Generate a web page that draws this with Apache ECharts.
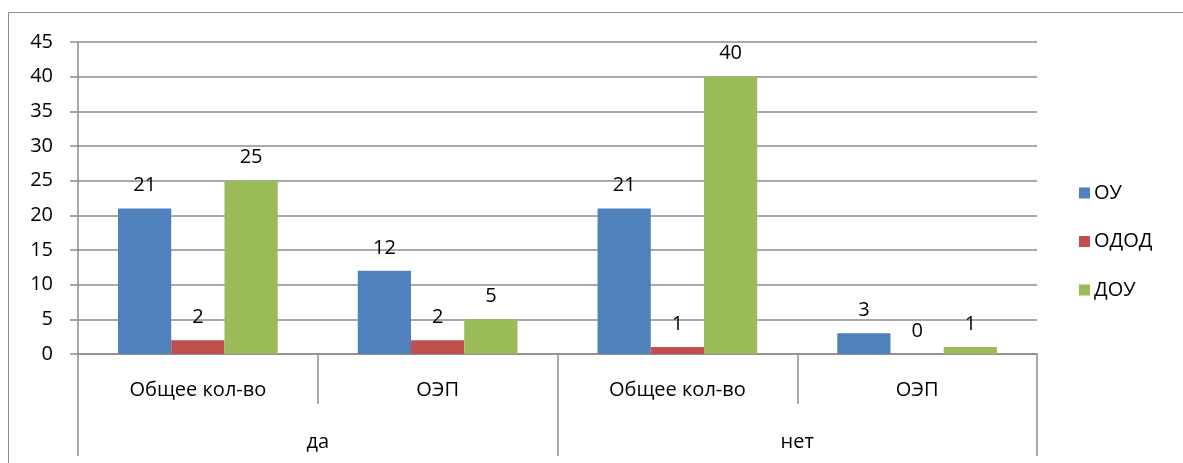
<!DOCTYPE html>
<html><head><meta charset="utf-8">
<script src="https://cdn.jsdelivr.net/npm/echarts@6/dist/echarts.min.js"></script>
<style>html,body{margin:0;padding:0;background:#fff}#c{width:1183px;height:463px}</style>
</head><body><div id="c"></div>
<script>
const innerCats = ['Общее кол-во', 'ОЭП', 'Общее кол-во', 'ОЭП'];
const outerCats = ['да', 'нет'];
const seriesNames = ['ОУ', 'ОДОД', 'ДОУ'];
const valuesOU = [21, 12, 21, 3];
const valuesODOD = [2, 2, 1, 0];
const valuesDOU = [25, 5, 40, 1];
const colors = ['#4F81BD', '#C0504D', '#9BBB59'];
const yTicks = [0, 5, 10, 15, 20, 25, 30, 35, 40, 45];

const FONT = '"Open Sans", "Liberation Sans", sans-serif';
const FS = 20;
const gridColor = '#8C8C8C';
const chart = echarts.init(document.getElementById('c'), null, {renderer: 'canvas'});
const mkSeries = (name, data, color) => ({
  name, type: 'bar', data, barGap: '0%', barCategoryGap: '33.4%',
  itemStyle: {color},
  label: {show: true, position: 'top', distance: 13, color: '#000', fontSize: FS, fontFamily: FONT}
});
chart.setOption({
  animation: false,
  graphic: [{type: 'rect', shape: {x: 8.5, y: 12.5, width: 1200, height: 500}, style: {fill: 'none', stroke: '#8C8C8C', lineWidth: 1}, silent: true, z: -1}],
  grid: {left: 78, top: 42, width: 959, height: 312, containLabel: false},
  legend: {
    orient: 'vertical', left: 1074, top: 178, itemGap: 28.5, itemWidth: 11, itemHeight: 11,
    icon: 'rect', data: seriesNames,
    textStyle: {fontSize: FS, fontFamily: FONT, color: '#000', padding: [0, 0, 0, -1]}
  },
  xAxis: [
    {type: 'category', data: innerCats, position: 'bottom',
     axisLine: {show: true, lineStyle: {color: gridColor, width: 1.5}},
     axisTick: {show: true, alignWithLabel: false, length: 50, lineStyle: {color: gridColor, width: 1.5}},
     axisLabel: {fontSize: FS, fontFamily: FONT, color: '#000', margin: 26}},
    {type: 'category', data: outerCats, position: 'bottom', offset: 50, gridIndex: 0,
     axisLine: {show: false},
     axisTick: {show: true, length: 52, lineStyle: {color: gridColor, width: 1.5}},
     axisLabel: {fontSize: FS, fontFamily: FONT, color: '#000', margin: 28}}
  ],
  yAxis: {
    type: 'value', min: 0, max: 45, interval: 5,
    axisLine: {show: true, lineStyle: {color: gridColor, width: 1.5}},
    axisTick: {show: true, length: 8, lineStyle: {color: gridColor, width: 1.5}},
    splitLine: {show: true, lineStyle: {color: gridColor, width: 1.5}},
    axisLabel: {fontSize: FS, fontFamily: FONT, color: '#000', margin: 25,
      formatter: v => yTicks.includes(v) ? String(v) : ''}
  },
  series: [
    mkSeries(seriesNames[0], valuesOU, colors[0]),
    mkSeries(seriesNames[1], valuesODOD, colors[1]),
    mkSeries(seriesNames[2], valuesDOU, colors[2])
  ]
});
</script></body></html>
